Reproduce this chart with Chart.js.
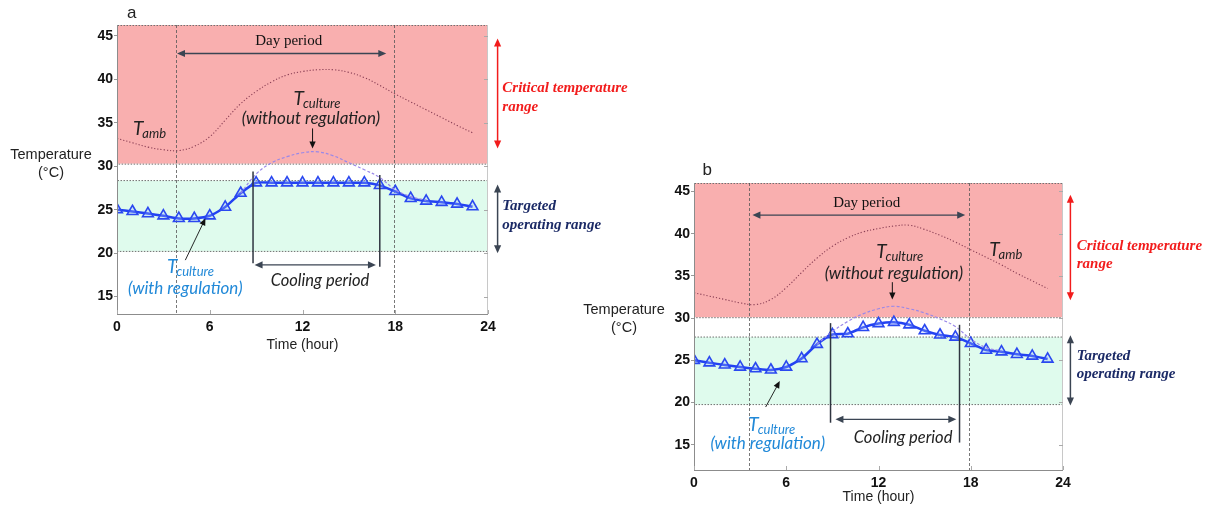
<!DOCTYPE html>
<html>
<head>
<meta charset="utf-8">
<script src="https://cdn.jsdelivr.net/npm/chart.js@4.4.1/dist/chart.umd.min.js"></script>
<style>
  body { margin: 0; background: #fff; width: 1212px; height: 508px; position: relative; overflow: hidden; }
  canvas { position: absolute; }
  #chartA { left: 0; top: 0; }
  #chartB { left: 575px; top: 160px; }
</style>
</head>
<body>
<canvas id="chartA" width="640" height="360"></canvas>
<canvas id="chartB" width="637" height="348"></canvas>
<script>
const hours = [0, 1, 2, 3, 4, 5, 6, 7, 8, 9, 10, 11, 12, 13, 14, 15, 16, 17, 18, 19, 20, 21, 22, 23];
const hoursNoReg = [8, 9, 10, 11, 12, 13, 14, 15, 16, 17, 18, 19, 20];
const timeTicks = [0, 6, 12, 18, 24];
const tempTicks = [15, 20, 25, 30, 35, 40, 45];

// (a) cooling holds the culture at a flat ceiling
const ambientA = [33.2, 32.7, 32.2, 31.9, 31.8, 32.3, 33.4, 35.3, 37.2, 38.6, 39.7, 40.5, 40.9, 41.1, 41.1, 40.8, 40.2, 39.3, 38.3, 37.4, 36.5, 35.6, 34.7, 33.85];
const cultureA = [25.0, 24.8, 24.55, 24.3, 24.0, 24.0, 24.3, 25.3, 26.9, 28.1, 28.1, 28.1, 28.1, 28.1, 28.1, 28.1, 28.1, 27.8, 27.1, 26.3, 26.0, 25.85, 25.65, 25.35];
const noRegA = [26.9, 29.1, 30.4, 31.1, 31.55, 31.65, 31.2, 30.4, 29.6, 28.7, 27.3, 26.5, 26.1];

// (b) cooling only trims the peak
const ambientB = [33.0, 32.6, 32.2, 31.8, 31.6, 32.2, 33.6, 35.4, 37.1, 38.5, 39.5, 40.2, 40.6, 40.9, 41.0, 40.5, 39.8, 39.0, 38.1, 37.2, 36.3, 35.3, 34.4, 33.5];
const cultureB = [25.0, 24.7, 24.45, 24.2, 24.0, 23.85, 24.2, 25.2, 26.9, 28.05, 28.15, 28.9, 29.35, 29.5, 29.2, 28.5, 28.0, 27.75, 27.0, 26.2, 26.0, 25.7, 25.5, 25.15];
const noRegB = [26.9, 28.4, 29.6, 30.5, 31.1, 31.4, 31.1, 30.6, 29.9, 29.0, 27.5, 26.5, 26.1];

const panelA = {
  letter: 'a', yMin: 13, yMax: 46.25, yWidth: 117, xHeight: 46, padTop: 25, padRight: 152, titlePad: 6.6,
  ambient: ambientA, culture: cultureA, noReg: noRegA,
  critFloor: 30.3, target: [20.2, 28.35],
  dayLines: [3.84, 17.94], dayArrow: [3.88, 17.42, 42.97], dayText: [11.11, 44.43],
  coolLines: [[8.8, 29.4, 18.85], [17.0, 29.0, 18.45]], coolArrow: [8.9, 16.75, 18.65], coolText: [13.13, 16.8],
  ambLabel: [1.03, 34.25],
  noRegT: [11.42, 37.8], noRegText: [12.55, 35.5], noRegArrow: [12.65, 34.35, 32.05],
  regT: [3.23, 18.45], regText: [4.42, 15.97], regArrow: [4.42, 19.2, 5.72, 24.0],
  critArrow: [44.7, 32.05], critText: [39.0, 36.8], targetArrow: [27.9, 20.0], targetText: [25.4, 23.25],
  sideX: 9.6, sideTextX: 14.3,
  yTitle: [-66, 31.3, 29.2], letterPos: [14.7, -12]
};

const panelB = {
  letter: 'b', yMin: 12, yMax: 46, yWidth: 119, xHeight: 38, padTop: 23, padRight: 149, titlePad: 2,
  ambient: ambientB, culture: cultureB, noReg: noRegB,
  critFloor: 30.1, target: [19.75, 27.75],
  dayLines: [3.57, 17.9], dayArrow: [3.8, 17.64, 42.2], dayText: [11.23, 43.66],
  coolLines: [[8.88, 29.4, 17.6], [17.27, 29.2, 15.25]], coolArrow: [9.2, 17.06, 18.0], coolText: [13.6, 15.83],
  ambLabel: [19.2, 38.1],
  noRegT: [11.85, 37.8], noRegText: [13.0, 35.3], noRegArrow: [12.9, 34.25, 32.2],
  regT: [3.53, 17.4], regText: [4.8, 15.1], regArrow: [4.66, 19.46, 5.58, 22.53],
  critArrow: [44.6, 32.1], critText: [38.47, 36.4], targetArrow: [27.95, 19.65], targetText: [25.48, 23.3],
  sideX: 7.4, sideTextX: 13.7,
  yTitle: [-70, 31.0, 28.8], letterPos: [13.3, -13]
};

const ITALIC = 'Lato, "Open Sans", sans-serif';
const SERIF = '"Liberation Serif", "DejaVu Serif", serif';
const SANS = '"Liberation Sans", Arial, sans-serif';

function line(ctx, x1, y1, x2, y2) {
  ctx.beginPath();
  ctx.moveTo(x1, y1);
  ctx.lineTo(x2, y2);
  ctx.stroke();
}

function head(ctx, x, y, ang, size) {
  const c = Math.cos(ang), s = Math.sin(ang), w = size * 0.45;
  ctx.beginPath();
  ctx.moveTo(x, y);
  ctx.lineTo(x - size * c + w * s, y - size * s - w * c);
  ctx.lineTo(x - size * c - w * s, y - size * s + w * c);
  ctx.closePath();
  ctx.fill();
}

function arrow(ctx, x1, y1, x2, y2, color, lw, size, both) {
  const ang = Math.atan2(y2 - y1, x2 - x1);
  ctx.strokeStyle = color;
  ctx.fillStyle = color;
  ctx.lineWidth = lw;
  const sx = both ? x1 + Math.cos(ang) * size * 0.8 : x1;
  const sy = both ? y1 + Math.sin(ang) * size * 0.8 : y1;
  line(ctx, sx, sy, x2 - Math.cos(ang) * size * 0.8, y2 - Math.sin(ang) * size * 0.8);
  head(ctx, x2, y2, ang, size);
  if (both) head(ctx, x1, y1, ang + Math.PI, size);
}

function text(ctx, str, x, y, font, color, align) {
  ctx.font = font;
  ctx.fillStyle = color;
  ctx.textAlign = align || 'center';
  ctx.textBaseline = 'middle';
  ctx.fillText(str, x, y);
}

// T with an italic subscript, x is the left edge of the T
function tSub(ctx, x, y, sub, color) {
  ctx.font = `italic 19px ${ITALIC}`;
  ctx.fillStyle = color;
  ctx.textAlign = 'left';
  ctx.textBaseline = 'middle';
  ctx.fillText('T', x, y);
  const w = ctx.measureText('T').width;
  ctx.font = `italic 13px ${ITALIC}`;
  ctx.fillText(sub, x + w - 1, y + 5);
}

function makeDecor(p) {
  return {
    id: 'decor' + p.letter,
    beforeDatasetsDraw(chart) {
      const { ctx, chartArea: a, scales: { x, y } } = chart;
      ctx.save();
      const critBot = y.getPixelForValue(p.critFloor);
      const tgTop = y.getPixelForValue(p.target[1]);
      const tgBot = y.getPixelForValue(p.target[0]);
      ctx.fillStyle = '#f9afaf';
      ctx.fillRect(a.left, a.top, a.width, critBot - a.top);
      ctx.fillStyle = '#dffbed';
      ctx.fillRect(a.left, tgTop, a.width, tgBot - tgTop);
      ctx.setLineDash([1.5, 1.5]);
      ctx.strokeStyle = '#707070';
      ctx.lineWidth = 1;
      ctx.strokeRect(a.left + 0.5, a.top + 0.5, a.width - 1, critBot - a.top);
      ctx.strokeRect(a.left + 0.5, tgTop, a.width - 1, tgBot - tgTop);

      // day period boundaries
      ctx.setLineDash([3, 2]);
      ctx.strokeStyle = '#555';
      ctx.lineWidth = 0.8;
      p.dayLines.forEach((h) => {
        const px = Math.round(x.getPixelForValue(h)) + 0.5;
        line(ctx, px, a.top, px, a.bottom);
      });
      ctx.restore();
    },
    afterDatasetsDraw(chart) {
      const { ctx, chartArea: a, scales: { x, y } } = chart;
      const X = (h) => x.getPixelForValue(h);
      const Y = (v) => y.getPixelForValue(v);
      ctx.save();

      // frame and inner tick marks
      ctx.lineWidth = 1;
      ctx.strokeStyle = '#8c8c8c';
      line(ctx, a.left + 0.5, a.top, a.left + 0.5, a.bottom + 0.5);
      line(ctx, a.left, a.bottom + 0.5, a.right, a.bottom + 0.5);
      ctx.strokeStyle = '#c8c8c8';
      line(ctx, a.right - 0.5, a.top, a.right - 0.5, a.bottom);
      ctx.strokeStyle = '#aaa';
      tempTicks.forEach((v) => line(ctx, a.right - 4, Math.round(Y(v)) + 0.5, a.right, Math.round(Y(v)) + 0.5));
      timeTicks.forEach((h) => line(ctx, Math.round(X(h)) + 0.5, a.bottom, Math.round(X(h)) + 0.5, a.bottom - 4));

      // day period
      const dark = '#3b4553';
      arrow(ctx, X(p.dayArrow[0]), Y(p.dayArrow[2]), X(p.dayArrow[1]), Y(p.dayArrow[2]), dark, 1.3, 8, true);
      text(ctx, 'Day period', X(p.dayText[0]), Y(p.dayText[1]), `15px ${SERIF}`, '#111');

      // cooling period
      ctx.strokeStyle = '#2f3540';
      ctx.lineWidth = 1.5;
      p.coolLines.forEach((c) => line(ctx, X(c[0]), Y(c[1]), X(c[0]), Y(c[2])));
      arrow(ctx, X(p.coolArrow[0]), Y(p.coolArrow[2]), X(p.coolArrow[1]), Y(p.coolArrow[2]), dark, 1.3, 8, true);
      text(ctx, 'Cooling period', X(p.coolText[0]), Y(p.coolText[1]), `italic 16.5px ${ITALIC}`, '#222');

      // curve labels
      tSub(ctx, X(p.ambLabel[0]), Y(p.ambLabel[1]), 'amb', '#222');
      tSub(ctx, X(p.noRegT[0]), Y(p.noRegT[1]), 'culture', '#222');
      text(ctx, '(without regulation)', X(p.noRegText[0]), Y(p.noRegText[1]), `italic 17px ${ITALIC}`, '#222');
      arrow(ctx, X(p.noRegArrow[0]), Y(p.noRegArrow[1]), X(p.noRegArrow[0]), Y(p.noRegArrow[2]), '#111', 1, 7, false);

      const blue = '#2189d8';
      tSub(ctx, X(p.regT[0]), Y(p.regT[1]), 'culture', blue);
      text(ctx, '(with regulation)', X(p.regText[0]), Y(p.regText[1]), `italic 17px ${ITALIC}`, blue);
      const r = p.regArrow;
      arrow(ctx, X(r[0]), Y(r[1]), X(r[2]), Y(r[3]), '#111', 0.9, 7, false);

      // ranges on the right
      const sx = a.right + p.sideX, tx = a.right + p.sideTextX;
      arrow(ctx, sx, Y(p.critArrow[0]), sx, Y(p.critArrow[1]), '#f21c1c', 1.5, 8, true);
      text(ctx, 'Critical temperature', tx, Y(p.critText[0]), `italic bold 15px ${SERIF}`, '#f21c1c', 'left');
      text(ctx, 'range', tx, Y(p.critText[1]), `italic bold 15px ${SERIF}`, '#f21c1c', 'left');
      arrow(ctx, sx, Y(p.targetArrow[0]), sx, Y(p.targetArrow[1]), '#3b4553', 1.5, 8, true);
      text(ctx, 'Targeted', tx, Y(p.targetText[0]), `italic bold 15px ${SERIF}`, '#1b2a66', 'left');
      text(ctx, 'operating range', tx, Y(p.targetText[1]), `italic bold 15px ${SERIF}`, '#1b2a66', 'left');

      // axis caption and panel letter
      text(ctx, 'Temperature', a.left + p.yTitle[0], Y(p.yTitle[1]), `14.5px ${SANS}`, '#222');
      text(ctx, '(°C)', a.left + p.yTitle[0], Y(p.yTitle[2]), `14.5px ${SANS}`, '#222');
      text(ctx, p.letter, a.left + p.letterPos[0], a.top + p.letterPos[1], `17px ${SANS}`, '#222');
      ctx.restore();
    }
  };
}

function makeChart(id, p) {
  const pts = (xs, ys) => xs.map((h, i) => ({ x: h, y: ys[i] }));
  return new Chart(document.getElementById(id), {
    type: 'line',
    data: {
      datasets: [
        {
          data: pts(hours, p.ambient),
          borderColor: '#8b3f55',
          borderWidth: 1.1,
          borderDash: [1.2, 2],
          pointRadius: 0,
          tension: 0.4
        },
        {
          data: pts(hoursNoReg, p.noReg),
          borderColor: '#9a88e8',
          borderWidth: 1.2,
          borderDash: [3, 2],
          pointRadius: 0,
          tension: 0.4
        },
        {
          data: pts(hours, p.culture),
          borderColor: '#2342f2',
          borderWidth: 2.5,
          pointStyle: 'triangle',
          pointRadius: 6.2,
          pointBorderWidth: 1.6,
          pointBorderColor: '#2a48f0',
          pointBackgroundColor: 'rgba(160,185,255,0.3)',
          tension: 0.2
        }
      ]
    },
    options: {
      responsive: false,
      animation: false,
      devicePixelRatio: 1,
      layout: { padding: { top: p.padTop, right: p.padRight, left: 0, bottom: 0 } },
      plugins: { legend: { display: false }, tooltip: { enabled: false } },
      scales: {
        x: {
          type: 'linear',
          min: 0,
          max: 24,
          afterBuildTicks: (s) => { s.ticks = timeTicks.map((v) => ({ value: v })); },
          afterFit: (s) => { s.height = p.xHeight; },
          grid: { drawOnChartArea: false, drawTicks: false },
          border: { display: false },
          ticks: { padding: 5, color: '#111', font: { family: SANS, size: 14, weight: 'bold' } },
          title: {
            display: true,
            text: 'Time (hour)',
            color: '#222',
            font: { family: SANS, size: 14 },
            padding: { top: 0, bottom: p.titlePad }
          }
        },
        y: {
          min: p.yMin,
          max: p.yMax,
          afterBuildTicks: (s) => { s.ticks = tempTicks.map((v) => ({ value: v })); },
          afterFit: (s) => { s.width = p.yWidth; },
          grid: { drawOnChartArea: false, tickLength: 3, color: '#999' },
          border: { display: false },
          ticks: { padding: 1, color: '#111', font: { family: SANS, size: 14, weight: 'bold' } }
        }
      }
    },
    plugins: [makeDecor(p)]
  });
}

document.addEventListener('DOMContentLoaded', function () {
  makeChart('chartA', panelA);
  makeChart('chartB', panelB);
});
</script>
</body>
</html>
